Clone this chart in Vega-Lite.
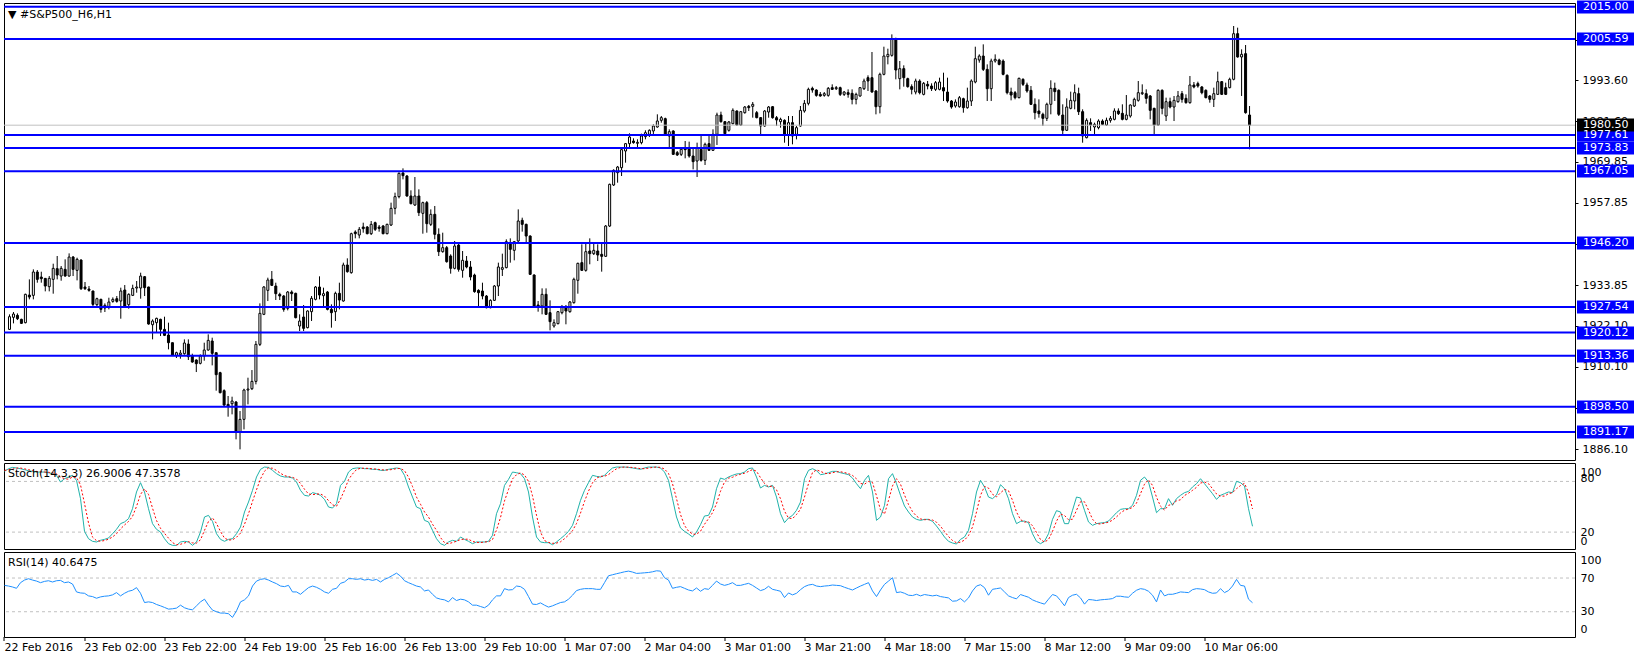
{
"$schema": "https://vega.github.io/schema/vega-lite/v6.json",
"background": "white",
"padding": {"left": 2, "top": 0, "right": 0, "bottom": 0},
"spacing": 1,
"config": {"view": {"stroke": "black", "strokeWidth": 1}, "font": "DejaVu Sans", "axis": {"grid": false, "title": null, "labelFont": "DejaVu Sans", "labelFontSize": 11, "labelColor": "black", "domain": false}},
"datasets": {
"levels": [{"p":2015.00},{"p":2005.59},{"p":1977.61},{"p":1973.83},{"p":1967.05},{"p":1946.20},{"p":1927.54},{"p":1920.12},{"p":1913.36},{"p":1898.50},{"p":1891.17}],
"bid": [{"p":1980.50}],
"bars": [
{"i":0,"o":1921.05,"h":1925.42,"l":1920.86,"c":1924.74,"k":92,"d":93,"r":61.3},
{"i":1,"o":1924.55,"h":1926.10,"l":1922.80,"c":1925.52,"k":95,"d":94,"r":60.5},
{"i":2,"o":1925.13,"h":1925.71,"l":1923.77,"c":1924.16,"k":96.6,"d":94.5,"r":59.4},
{"i":3,"o":1923.97,"h":1924.16,"l":1922.61,"c":1922.80,"k":95.9,"d":95.8,"r":57.8},
{"i":4,"o":1923.00,"h":1931.44,"l":1922.80,"c":1931.25,"k":95,"d":95.8,"r":64.5},
{"i":5,"o":1931.05,"h":1935.61,"l":1929.79,"c":1930.47,"k":93.9,"d":94.9,"r":67.6},
{"i":6,"o":1930.95,"h":1938.52,"l":1929.79,"c":1937.75,"k":92.7,"d":93.9,"r":69.2},
{"i":7,"o":1937.75,"h":1938.33,"l":1934.64,"c":1935.61,"k":91.9,"d":92.8,"r":67.6},
{"i":8,"o":1936.29,"h":1937.84,"l":1934.64,"c":1935.81,"k":91.1,"d":91.9,"r":66.4},
{"i":9,"o":1935.90,"h":1935.95,"l":1932.12,"c":1933.67,"k":91.1,"d":91.4,"r":64.5},
{"i":10,"o":1933.48,"h":1936.58,"l":1932.12,"c":1935.90,"k":91.1,"d":91.1,"r":66},
{"i":11,"o":1935.61,"h":1940.17,"l":1931.44,"c":1938.81,"k":90.3,"d":90.8,"r":66.8},
{"i":12,"o":1938.72,"h":1942.41,"l":1935.61,"c":1936.87,"k":89.2,"d":90.2,"r":65.3},
{"i":13,"o":1936.58,"h":1939.49,"l":1935.22,"c":1938.81,"k":87.2,"d":88.9,"r":66.8},
{"i":14,"o":1938.52,"h":1941.44,"l":1936.39,"c":1936.58,"k":79.3,"d":85.2,"r":67.2},
{"i":15,"o":1936.58,"h":1943.18,"l":1936.39,"c":1942.11,"k":83.2,"d":83.2,"r":64.5},
{"i":16,"o":1942.11,"h":1942.41,"l":1936.58,"c":1938.52,"k":85.2,"d":82.6,"r":65.3},
{"i":17,"o":1938.23,"h":1941.92,"l":1935.32,"c":1941.44,"k":87.2,"d":85.2,"r":62.9},
{"i":18,"o":1941.24,"h":1941.44,"l":1932.51,"c":1932.90,"k":81.3,"d":84.6,"r":53.5},
{"i":19,"o":1933.38,"h":1934.84,"l":1932.51,"c":1932.90,"k":59.6,"d":76,"r":52.3},
{"i":20,"o":1932.80,"h":1933.67,"l":1932.02,"c":1932.41,"k":20.9,"d":53.9,"r":51.9},
{"i":21,"o":1932.22,"h":1932.30,"l":1927.85,"c":1928.33,"k":12.2,"d":30.9,"r":48.8},
{"i":22,"o":1928.24,"h":1930.27,"l":1927.85,"c":1929.98,"k":9.1,"d":14.1,"r":48},
{"i":23,"o":1929.79,"h":1929.98,"l":1925.91,"c":1926.88,"k":8.3,"d":9.9,"r":46},
{"i":24,"o":1927.27,"h":1928.62,"l":1926.10,"c":1928.04,"k":10.3,"d":9.2,"r":47.6},
{"i":25,"o":1927.65,"h":1930.27,"l":1926.88,"c":1929.01,"k":11.4,"d":10,"r":48.4},
{"i":26,"o":1929.21,"h":1930.37,"l":1928.82,"c":1929.79,"k":13,"d":11.6,"r":48.8},
{"i":27,"o":1929.98,"h":1930.76,"l":1928.82,"c":1929.21,"k":18.1,"d":14.2,"r":50},
{"i":28,"o":1929.30,"h":1933.19,"l":1924.16,"c":1932.22,"k":23.3,"d":18.1,"r":52.7},
{"i":29,"o":1932.51,"h":1933.96,"l":1927.65,"c":1927.85,"k":30,"d":23.8,"r":48.8},
{"i":30,"o":1928.24,"h":1931.54,"l":1927.07,"c":1931.25,"k":32,"d":28.4,"r":51.9},
{"i":31,"o":1930.95,"h":1934.06,"l":1930.76,"c":1932.99,"k":35.9,"d":32.6,"r":54.3},
{"i":32,"o":1933.09,"h":1935.13,"l":1931.73,"c":1933.38,"k":47.7,"d":38.5,"r":55.5},
{"i":33,"o":1933.09,"h":1937.55,"l":1929.98,"c":1936.58,"k":67.5,"d":50.4,"r":58.6},
{"i":34,"o":1936.39,"h":1936.58,"l":1930.76,"c":1933.19,"k":78.5,"d":64.6,"r":51.9},
{"i":35,"o":1933.38,"h":1933.48,"l":1922.41,"c":1922.61,"k":67.5,"d":71.2,"r":40.9},
{"i":36,"o":1922.41,"h":1923.97,"l":1918.14,"c":1923.48,"k":47.7,"d":64.6,"r":41.7},
{"i":37,"o":1923.00,"h":1924.45,"l":1920.28,"c":1924.26,"k":30,"d":48.4,"r":40.9},
{"i":38,"o":1923.97,"h":1924.16,"l":1919.11,"c":1921.05,"k":23.3,"d":33.7,"r":38.6},
{"i":39,"o":1921.05,"h":1924.74,"l":1919.11,"c":1919.31,"k":20.1,"d":24.5,"r":37},
{"i":40,"o":1919.41,"h":1923.00,"l":1915.23,"c":1917.17,"k":12.2,"d":18.5,"r":35.1},
{"i":41,"o":1917.17,"h":1917.20,"l":1913.29,"c":1913.48,"k":6.3,"d":12.9,"r":33.1},
{"i":42,"o":1913.48,"h":1914.55,"l":1912.71,"c":1914.26,"k":4.3,"d":7.6,"r":33.5},
{"i":43,"o":1913.68,"h":1915.04,"l":1912.51,"c":1914.16,"k":4.3,"d":5,"r":34.3},
{"i":44,"o":1913.97,"h":1918.14,"l":1913.68,"c":1917.08,"k":8.3,"d":5.6,"r":37.8},
{"i":45,"o":1916.78,"h":1918.14,"l":1912.13,"c":1913.10,"k":9.1,"d":7.2,"r":34.7},
{"i":46,"o":1913.29,"h":1913.97,"l":1911.35,"c":1911.54,"k":8.3,"d":8.6,"r":33.1},
{"i":47,"o":1912.13,"h":1912.32,"l":1908.63,"c":1911.06,"k":4.3,"d":7.2,"r":32.3},
{"i":48,"o":1911.16,"h":1913.78,"l":1910.86,"c":1913.29,"k":8.3,"d":7,"r":37},
{"i":49,"o":1913.29,"h":1917.17,"l":1911.93,"c":1915.04,"k":20.1,"d":10.9,"r":41.7},
{"i":50,"o":1915.04,"h":1919.60,"l":1914.84,"c":1917.85,"k":37.9,"d":22.1,"r":44.9},
{"i":51,"o":1917.66,"h":1918.63,"l":1910.57,"c":1914.07,"k":39.8,"d":32.6,"r":37.8},
{"i":52,"o":1914.26,"h":1914.30,"l":1903.20,"c":1907.86,"k":32.7,"d":36.8,"r":31.9},
{"i":53,"o":1908.44,"h":1908.70,"l":1902.42,"c":1902.62,"k":18.1,"d":30.2,"r":30},
{"i":54,"o":1903.20,"h":1903.59,"l":1898.73,"c":1899.02,"k":11.4,"d":20.7,"r":28.4},
{"i":55,"o":1899.22,"h":1901.65,"l":1895.63,"c":1898.73,"k":9.1,"d":12.9,"r":28.4},
{"i":56,"o":1899.41,"h":1901.45,"l":1896.31,"c":1900.19,"k":11.4,"d":10.6,"r":27.6},
{"i":57,"o":1899.90,"h":1900.19,"l":1889.03,"c":1891.16,"k":12.2,"d":10.9,"r":23.3},
{"i":58,"o":1891.16,"h":1897.28,"l":1886.12,"c":1894.85,"k":18.1,"d":13.9,"r":31.1},
{"i":59,"o":1894.85,"h":1903.78,"l":1891.94,"c":1903.39,"k":26,"d":18.8,"r":41.7},
{"i":60,"o":1903.39,"h":1906.98,"l":1899.22,"c":1903.68,"k":43.8,"d":29.3,"r":44.1},
{"i":61,"o":1903.78,"h":1909.21,"l":1903.39,"c":1905.91,"k":55.6,"d":41.8,"r":48.8},
{"i":62,"o":1905.91,"h":1917.66,"l":1905.04,"c":1916.69,"k":69.4,"d":56.3,"r":60.5},
{"i":63,"o":1916.69,"h":1928.62,"l":1916.20,"c":1925.71,"k":85.2,"d":70.1,"r":66.4},
{"i":64,"o":1925.43,"h":1933.67,"l":1925.20,"c":1933.38,"k":94.3,"d":83,"r":68.4},
{"i":65,"o":1932.41,"h":1936.10,"l":1929.30,"c":1935.42,"k":97,"d":92.2,"r":69.2},
{"i":66,"o":1935.62,"h":1938.04,"l":1933.67,"c":1933.87,"k":96.6,"d":96,"r":67.6},
{"i":67,"o":1933.67,"h":1934.64,"l":1929.60,"c":1931.44,"k":93.1,"d":95.6,"r":65.3},
{"i":68,"o":1931.25,"h":1931.73,"l":1929.60,"c":1930.76,"k":89.2,"d":93,"r":63.3},
{"i":69,"o":1930.76,"h":1931.05,"l":1926.20,"c":1926.88,"k":86.4,"d":89.6,"r":60.5},
{"i":70,"o":1927.17,"h":1932.22,"l":1926.59,"c":1931.93,"k":85.2,"d":86.9,"r":59.8},
{"i":71,"o":1931.93,"h":1932.41,"l":1929.31,"c":1931.44,"k":85.2,"d":85.6,"r":61.3},
{"i":72,"o":1931.54,"h":1931.73,"l":1924.26,"c":1924.46,"k":84,"d":84.8,"r":53.5},
{"i":73,"o":1922.03,"h":1925.43,"l":1920.57,"c":1923.48,"k":79.3,"d":82.8,"r":53.5},
{"i":74,"o":1924.65,"h":1928.14,"l":1920.57,"c":1921.35,"k":69.4,"d":77.6,"r":50.7},
{"i":75,"o":1921.55,"h":1926.59,"l":1921.35,"c":1926.40,"k":63.5,"d":70.7,"r":54.7},
{"i":76,"o":1926.20,"h":1930.76,"l":1923.49,"c":1930.08,"k":62.7,"d":65.2,"r":58.6},
{"i":77,"o":1929.79,"h":1933.67,"l":1929.50,"c":1933.38,"k":66.7,"d":64.3,"r":60.5},
{"i":78,"o":1933.38,"h":1936.49,"l":1929.79,"c":1931.05,"k":65.5,"d":65,"r":59},
{"i":79,"o":1930.86,"h":1933.19,"l":1927.37,"c":1931.44,"k":63.5,"d":65.2,"r":56.6},
{"i":80,"o":1931.93,"h":1932.22,"l":1926.59,"c":1926.88,"k":58.8,"d":62.6,"r":53.5},
{"i":81,"o":1926.88,"h":1928.34,"l":1921.55,"c":1925.91,"k":49.7,"d":57.3,"r":51.9},
{"i":82,"o":1926.20,"h":1932.03,"l":1923.49,"c":1931.54,"k":48.5,"d":52.3,"r":56.6},
{"i":83,"o":1931.54,"h":1934.64,"l":1926.88,"c":1929.60,"k":53.6,"d":50.6,"r":57.8},
{"i":84,"o":1929.31,"h":1940.47,"l":1929.11,"c":1939.79,"k":75.3,"d":59.1,"r":63.7},
{"i":85,"o":1939.79,"h":1941.73,"l":1937.56,"c":1937.85,"k":80.1,"d":69.7,"r":65.3},
{"i":86,"o":1937.56,"h":1949.20,"l":1937.27,"c":1948.91,"k":91.1,"d":82.2,"r":69.2},
{"i":87,"o":1949.40,"h":1949.89,"l":1947.55,"c":1948.91,"k":95.1,"d":88.8,"r":69.2},
{"i":88,"o":1948.52,"h":1950.85,"l":1947.55,"c":1950.17,"k":95.9,"d":94,"r":68.4},
{"i":89,"o":1950.85,"h":1952.11,"l":1949.20,"c":1950.37,"k":95.9,"d":95.6,"r":69.2},
{"i":90,"o":1950.85,"h":1951.14,"l":1948.72,"c":1948.91,"k":95.1,"d":95.6,"r":67.6},
{"i":91,"o":1948.91,"h":1952.60,"l":1948.52,"c":1951.63,"k":95.1,"d":95.4,"r":68.4},
{"i":92,"o":1952.11,"h":1952.41,"l":1949.69,"c":1950.17,"k":94.3,"d":94.8,"r":67.2},
{"i":93,"o":1950.85,"h":1951.44,"l":1949.49,"c":1950.46,"k":94.3,"d":94.6,"r":68.4},
{"i":94,"o":1951.14,"h":1951.44,"l":1948.72,"c":1948.91,"k":93.1,"d":93.9,"r":65.3},
{"i":95,"o":1948.91,"h":1951.82,"l":1948.72,"c":1951.63,"k":93.1,"d":93.5,"r":68.4},
{"i":96,"o":1951.43,"h":1957.94,"l":1951.14,"c":1956.29,"k":94.3,"d":93.5,"r":70.4},
{"i":97,"o":1956.29,"h":1960.85,"l":1954.54,"c":1959.69,"k":95.1,"d":94.2,"r":73.1},
{"i":98,"o":1959.69,"h":1966.77,"l":1959.20,"c":1966.48,"k":95.9,"d":95.1,"r":75.8},
{"i":99,"o":1966.58,"h":1967.93,"l":1964.73,"c":1965.80,"k":95.1,"d":95.4,"r":72.3},
{"i":100,"o":1965.70,"h":1965.99,"l":1959.68,"c":1959.88,"k":87.2,"d":92.7,"r":66.8},
{"i":101,"o":1959.88,"h":1961.53,"l":1957.45,"c":1957.65,"k":73.4,"d":85.2,"r":64.5},
{"i":102,"o":1957.26,"h":1965.41,"l":1956.97,"c":1959.88,"k":61.5,"d":74,"r":62.5},
{"i":103,"o":1959.88,"h":1961.82,"l":1954.06,"c":1955.03,"k":49.7,"d":61.5,"r":60.5},
{"i":104,"o":1954.83,"h":1958.23,"l":1948.91,"c":1957.94,"k":47.7,"d":53,"r":59.4},
{"i":105,"o":1957.94,"h":1958.42,"l":1949.20,"c":1951.82,"k":33.9,"d":43.8,"r":54.7},
{"i":106,"o":1951.63,"h":1955.99,"l":1951.14,"c":1954.54,"k":32,"d":37.9,"r":55.8},
{"i":107,"o":1954.54,"h":1956.97,"l":1947.26,"c":1948.72,"k":22.1,"d":29.3,"r":50.7},
{"i":108,"o":1948.72,"h":1950.46,"l":1942.41,"c":1943.67,"k":12.2,"d":22.1,"r":46.4},
{"i":109,"o":1943.67,"h":1949.20,"l":1943.38,"c":1944.84,"k":6.3,"d":13.5,"r":44.9},
{"i":110,"o":1944.84,"h":1945.32,"l":1940.47,"c":1940.76,"k":4.3,"d":7.6,"r":44.1},
{"i":111,"o":1942.41,"h":1942.90,"l":1937.27,"c":1938.82,"k":8.3,"d":6.3,"r":41.7},
{"i":112,"o":1938.82,"h":1946.78,"l":1938.53,"c":1945.32,"k":10.3,"d":7.6,"r":46.8},
{"i":113,"o":1945.61,"h":1946.00,"l":1937.85,"c":1938.53,"k":9.1,"d":9.2,"r":43.3},
{"i":114,"o":1938.24,"h":1943.87,"l":1936.10,"c":1941.15,"k":14.2,"d":11.2,"r":44.9},
{"i":115,"o":1940.95,"h":1942.41,"l":1938.82,"c":1939.21,"k":11.4,"d":11.6,"r":44.1},
{"i":116,"o":1939.21,"h":1940.95,"l":1935.33,"c":1936.30,"k":9.1,"d":11.6,"r":41.7},
{"i":117,"o":1936.88,"h":1937.27,"l":1931.73,"c":1932.03,"k":6.3,"d":8.9,"r":37.8},
{"i":118,"o":1932.41,"h":1932.71,"l":1927.37,"c":1931.73,"k":8.3,"d":7.9,"r":37.8},
{"i":119,"o":1932.22,"h":1934.64,"l":1929.79,"c":1930.76,"k":8.3,"d":7.6,"r":36.2},
{"i":120,"o":1930.76,"h":1931.05,"l":1927.17,"c":1927.37,"k":8.3,"d":8.3,"r":34.7},
{"i":121,"o":1927.37,"h":1929.79,"l":1927.17,"c":1929.50,"k":9.1,"d":8.6,"r":37.8},
{"i":122,"o":1929.50,"h":1933.96,"l":1929.31,"c":1933.67,"k":16.2,"d":11.2,"r":44.1},
{"i":123,"o":1933.67,"h":1940.47,"l":1930.76,"c":1939.21,"k":41.8,"d":22.4,"r":48.8},
{"i":124,"o":1938.53,"h":1943.09,"l":1936.59,"c":1939.02,"k":53.6,"d":37.2,"r":48.8},
{"i":125,"o":1939.02,"h":1947.26,"l":1938.82,"c":1946.58,"k":75.3,"d":56.9,"r":57.4},
{"i":126,"o":1946.29,"h":1947.55,"l":1940.47,"c":1944.35,"k":82.4,"d":70.4,"r":55.8},
{"i":127,"o":1944.06,"h":1946.78,"l":1941.15,"c":1946.58,"k":91.1,"d":82.9,"r":56.2},
{"i":128,"o":1946.78,"h":1955.99,"l":1946.29,"c":1952.60,"k":90.3,"d":87.9,"r":60.5},
{"i":129,"o":1952.80,"h":1953.57,"l":1949.50,"c":1951.63,"k":89.2,"d":90.2,"r":59.8},
{"i":130,"o":1951.63,"h":1951.82,"l":1946.29,"c":1948.23,"k":83.2,"d":87.6,"r":56.6},
{"i":131,"o":1948.23,"h":1948.43,"l":1936.88,"c":1937.08,"k":67.5,"d":80,"r":48},
{"i":132,"o":1936.88,"h":1937.08,"l":1927.56,"c":1927.85,"k":37.9,"d":62.9,"r":39},
{"i":133,"o":1928.15,"h":1929.31,"l":1926.20,"c":1927.56,"k":14.2,"d":39.9,"r":38.6},
{"i":134,"o":1927.85,"h":1932.99,"l":1925.43,"c":1931.25,"k":8.3,"d":20.1,"r":40.5},
{"i":135,"o":1931.25,"h":1932.99,"l":1925.23,"c":1925.43,"k":7.5,"d":10,"r":37.8},
{"i":136,"o":1925.91,"h":1929.50,"l":1920.77,"c":1923.29,"k":7.5,"d":7.8,"r":35.5},
{"i":137,"o":1922.03,"h":1923.97,"l":1921.55,"c":1922.99,"k":5.1,"d":6.7,"r":37},
{"i":138,"o":1922.71,"h":1926.40,"l":1922.52,"c":1926.20,"k":8.3,"d":7,"r":39},
{"i":139,"o":1925.91,"h":1928.15,"l":1925.43,"c":1927.56,"k":12.2,"d":8.5,"r":40.9},
{"i":140,"o":1927.56,"h":1928.15,"l":1922.52,"c":1926.40,"k":16.2,"d":12.2,"r":41.7},
{"i":141,"o":1926.20,"h":1929.31,"l":1925.91,"c":1929.02,"k":20.9,"d":16.4,"r":44.9},
{"i":142,"o":1928.83,"h":1936.10,"l":1928.53,"c":1935.62,"k":28,"d":21.7,"r":49.6},
{"i":143,"o":1935.33,"h":1940.47,"l":1931.44,"c":1940.27,"k":41.8,"d":30.2,"r":55.1},
{"i":144,"o":1940.47,"h":1945.81,"l":1938.05,"c":1938.24,"k":57.6,"d":42.5,"r":56.6},
{"i":145,"o":1938.24,"h":1946.29,"l":1937.85,"c":1943.67,"k":69.4,"d":56.3,"r":57.4},
{"i":146,"o":1943.87,"h":1947.55,"l":1940.00,"c":1943.09,"k":78.5,"d":68.5,"r":57.4},
{"i":147,"o":1943.09,"h":1946.29,"l":1942.70,"c":1944.06,"k":87.2,"d":78.4,"r":57.4},
{"i":148,"o":1943.87,"h":1945.81,"l":1940.95,"c":1942.70,"k":86,"d":83.9,"r":56.6},
{"i":149,"o":1942.90,"h":1946.29,"l":1937.85,"c":1942.32,"k":85.2,"d":86.1,"r":56.6},
{"i":150,"o":1942.32,"h":1951.43,"l":1942.12,"c":1951.14,"k":87.2,"d":86.1,"r":64.5},
{"i":151,"o":1951.14,"h":1963.47,"l":1950.85,"c":1963.28,"k":91.9,"d":88.1,"r":72.7},
{"i":152,"o":1963.08,"h":1967.65,"l":1962.79,"c":1967.35,"k":95.9,"d":91.7,"r":73.9},
{"i":153,"o":1966.67,"h":1968.62,"l":1963.76,"c":1968.32,"k":97,"d":94.9,"r":75.1},
{"i":154,"o":1968.13,"h":1973.66,"l":1965.70,"c":1973.37,"k":97,"d":96.6,"r":76.2},
{"i":155,"o":1972.98,"h":1975.31,"l":1969.58,"c":1975.12,"k":97,"d":97,"r":77.4},
{"i":156,"o":1975.12,"h":1978.13,"l":1973.95,"c":1977.06,"k":96.6,"d":96.9,"r":78.2},
{"i":157,"o":1975.89,"h":1976.67,"l":1975.12,"c":1975.41,"k":95.9,"d":96.5,"r":77.1},
{"i":158,"o":1975.22,"h":1976.38,"l":1973.95,"c":1975.51,"k":95.1,"d":95.9,"r":75.5},
{"i":159,"o":1975.41,"h":1978.03,"l":1974.92,"c":1977.35,"k":94.3,"d":95.1,"r":75.8},
{"i":160,"o":1977.16,"h":1979.00,"l":1976.38,"c":1978.32,"k":95.9,"d":95.1,"r":76.2},
{"i":161,"o":1977.84,"h":1979.29,"l":1977.06,"c":1979.00,"k":97,"d":95.7,"r":76.6},
{"i":162,"o":1978.81,"h":1980.75,"l":1977.84,"c":1980.26,"k":97,"d":96.6,"r":77.4},
{"i":163,"o":1979.97,"h":1983.66,"l":1979.78,"c":1981.72,"k":97,"d":97,"r":78.6},
{"i":164,"o":1981.91,"h":1983.17,"l":1981.23,"c":1982.69,"k":95.9,"d":96.6,"r":78.2},
{"i":165,"o":1982.40,"h":1982.69,"l":1977.35,"c":1977.64,"k":91.1,"d":94.7,"r":70.4},
{"i":166,"o":1977.35,"h":1979.29,"l":1973.95,"c":1978.61,"k":81.3,"d":89.4,"r":67.6},
{"i":167,"o":1978.81,"h":1979.00,"l":1971.82,"c":1972.01,"k":59.6,"d":77.3,"r":57.8},
{"i":168,"o":1972.50,"h":1972.98,"l":1971.53,"c":1971.82,"k":37.9,"d":59.6,"r":59},
{"i":169,"o":1972.01,"h":1973.95,"l":1971.53,"c":1973.47,"k":24.9,"d":40.8,"r":59.8},
{"i":170,"o":1973.95,"h":1975.89,"l":1970.85,"c":1973.37,"k":20.9,"d":27.9,"r":57.8},
{"i":171,"o":1973.95,"h":1975.70,"l":1971.04,"c":1971.53,"k":17.8,"d":21.2,"r":55.8},
{"i":172,"o":1971.53,"h":1973.95,"l":1967.64,"c":1969.88,"k":14.2,"d":17.6,"r":54.7},
{"i":173,"o":1970.07,"h":1975.41,"l":1965.41,"c":1973.95,"k":20.1,"d":17.4,"r":58.2},
{"i":174,"o":1973.47,"h":1977.84,"l":1969.88,"c":1970.27,"k":28.8,"d":21,"r":54.3},
{"i":175,"o":1970.27,"h":1975.41,"l":1968.91,"c":1974.92,"k":39.1,"d":29.3,"r":57.4},
{"i":176,"o":1975.12,"h":1977.84,"l":1972.98,"c":1973.18,"k":39.8,"d":35.9,"r":56.6},
{"i":177,"o":1973.18,"h":1979.29,"l":1972.98,"c":1977.84,"k":49.7,"d":42.9,"r":61.3},
{"i":178,"o":1977.84,"h":1984.14,"l":1974.73,"c":1983.46,"k":71.4,"d":53.6,"r":66.4},
{"i":179,"o":1983.46,"h":1984.43,"l":1981.23,"c":1981.52,"k":84,"d":68.4,"r":62.9},
{"i":180,"o":1981.52,"h":1981.72,"l":1977.84,"c":1978.03,"k":82.4,"d":79.3,"r":61.3},
{"i":181,"o":1979.00,"h":1981.72,"l":1978.61,"c":1981.43,"k":85.2,"d":83.9,"r":62.5},
{"i":182,"o":1980.94,"h":1985.40,"l":1980.75,"c":1984.82,"k":87.2,"d":84.9,"r":64.5},
{"i":183,"o":1984.63,"h":1984.82,"l":1980.26,"c":1980.55,"k":88.8,"d":87.1,"r":61.3},
{"i":184,"o":1980.55,"h":1984.63,"l":1980.26,"c":1984.43,"k":89.2,"d":88.4,"r":61.3},
{"i":185,"o":1984.14,"h":1986.08,"l":1983.85,"c":1985.79,"k":91.1,"d":89.7,"r":62.5},
{"i":186,"o":1985.99,"h":1986.38,"l":1984.63,"c":1985.60,"k":95.1,"d":91.8,"r":63.7},
{"i":187,"o":1985.99,"h":1987.25,"l":1982.69,"c":1986.57,"k":95.9,"d":94,"r":61.3},
{"i":188,"o":1984.14,"h":1984.63,"l":1982.49,"c":1982.69,"k":85.2,"d":92.1,"r":58.2},
{"i":189,"o":1982.69,"h":1982.88,"l":1977.84,"c":1980.26,"k":72.2,"d":84.4,"r":55.1},
{"i":190,"o":1980.26,"h":1984.91,"l":1980.06,"c":1984.62,"k":75.3,"d":77.6,"r":56.6},
{"i":191,"o":1984.33,"h":1986.08,"l":1982.68,"c":1985.79,"k":73.4,"d":73.6,"r":60.2},
{"i":192,"o":1985.88,"h":1986.08,"l":1982.39,"c":1982.68,"k":75.3,"d":74.7,"r":56.6},
{"i":193,"o":1982.68,"h":1983.17,"l":1980.26,"c":1982.00,"k":61.5,"d":70.1,"r":55.5},
{"i":194,"o":1981.52,"h":1982.68,"l":1979.77,"c":1982.20,"k":41.8,"d":59.5,"r":54.3},
{"i":195,"o":1981.91,"h":1982.20,"l":1975.40,"c":1977.54,"k":31.2,"d":44.8,"r":46.8},
{"i":196,"o":1977.54,"h":1983.17,"l":1974.43,"c":1981.23,"k":36.7,"d":36.6,"r":52.3},
{"i":197,"o":1981.23,"h":1983.17,"l":1974.92,"c":1977.34,"k":39.8,"d":35.9,"r":50},
{"i":198,"o":1977.83,"h":1980.26,"l":1976.37,"c":1979.77,"k":45.8,"d":40.8,"r":51.9},
{"i":199,"o":1980.26,"h":1986.08,"l":1980.06,"c":1984.81,"k":55.6,"d":47.1,"r":56.2},
{"i":200,"o":1984.62,"h":1987.82,"l":1984.14,"c":1986.85,"k":83.2,"d":61.5,"r":59.8},
{"i":201,"o":1986.85,"h":1991.42,"l":1986.27,"c":1990.93,"k":93.1,"d":77.3,"r":61.7},
{"i":202,"o":1991.22,"h":1991.71,"l":1989.96,"c":1990.74,"k":95.1,"d":90.5,"r":62.5},
{"i":203,"o":1990.74,"h":1990.93,"l":1988.79,"c":1989.18,"k":92.7,"d":93.6,"r":60.5},
{"i":204,"o":1989.47,"h":1990.15,"l":1988.79,"c":1988.99,"k":88,"d":91.9,"r":59.8},
{"i":205,"o":1989.18,"h":1990.15,"l":1988.79,"c":1989.67,"k":88.8,"d":89.8,"r":60.5},
{"i":206,"o":1989.18,"h":1991.61,"l":1988.79,"c":1991.22,"k":90.3,"d":89,"r":60.9},
{"i":207,"o":1991.42,"h":1992.39,"l":1990.74,"c":1990.93,"k":91.9,"d":90.3,"r":61.7},
{"i":208,"o":1991.12,"h":1991.90,"l":1990.74,"c":1991.42,"k":91.9,"d":91.4,"r":61.3},
{"i":209,"o":1991.42,"h":1991.71,"l":1988.99,"c":1989.47,"k":90.3,"d":91.4,"r":60.9},
{"i":210,"o":1989.47,"h":1990.45,"l":1988.99,"c":1990.15,"k":89.2,"d":90.5,"r":59},
{"i":211,"o":1989.96,"h":1990.93,"l":1988.50,"c":1989.47,"k":88,"d":89.2,"r":57.4},
{"i":212,"o":1989.76,"h":1990.93,"l":1986.56,"c":1988.02,"k":84,"d":87.1,"r":55.8},
{"i":213,"o":1988.02,"h":1989.96,"l":1986.56,"c":1989.47,"k":77.3,"d":83.1,"r":58.2},
{"i":214,"o":1988.99,"h":1991.61,"l":1988.79,"c":1991.42,"k":71.4,"d":77.6,"r":60.5},
{"i":215,"o":1991.12,"h":1994.04,"l":1990.74,"c":1993.36,"k":81.3,"d":76.7,"r":62.5},
{"i":216,"o":1994.33,"h":1995.01,"l":1990.45,"c":1993.36,"k":87.2,"d":80,"r":64.5},
{"i":217,"o":1994.33,"h":2001.80,"l":1989.96,"c":1990.15,"k":67.5,"d":78.7,"r":54.7},
{"i":218,"o":1990.45,"h":1990.74,"l":1983.65,"c":1985.88,"k":33.9,"d":62.9,"r":48},
{"i":219,"o":1985.88,"h":1995.78,"l":1983.94,"c":1995.30,"k":37.9,"d":46.4,"r":55.8},
{"i":220,"o":1995.30,"h":2003.35,"l":1995.01,"c":2000.63,"k":51.7,"d":41.2,"r":62.5},
{"i":221,"o":2000.44,"h":2002.77,"l":1998.21,"c":2001.12,"k":83.2,"d":57.6,"r":66.4},
{"i":222,"o":2000.83,"h":2006.94,"l":2000.44,"c":2005.68,"k":89.2,"d":74.7,"r":70.4},
{"i":223,"o":2005.68,"h":2005.97,"l":1993.84,"c":1996.56,"k":77.3,"d":83.2,"r":52.7},
{"i":224,"o":1994.04,"h":1999.18,"l":1990.93,"c":1996.95,"k":63.5,"d":76.7,"r":53.5},
{"i":225,"o":1996.95,"h":1997.92,"l":1991.71,"c":1994.33,"k":50.9,"d":63.9,"r":51.9},
{"i":226,"o":1994.04,"h":1994.33,"l":1991.42,"c":1991.71,"k":43.8,"d":52.7,"r":49.6},
{"i":227,"o":1991.71,"h":1992.39,"l":1989.47,"c":1990.93,"k":37.9,"d":44.2,"r":49.2},
{"i":228,"o":1990.15,"h":1994.04,"l":1989.47,"c":1993.36,"k":35.1,"d":38.9,"r":50.7},
{"i":229,"o":1993.36,"h":1993.84,"l":1989.47,"c":1989.96,"k":33.9,"d":35.6,"r":48.8},
{"i":230,"o":1989.47,"h":1993.07,"l":1989.18,"c":1992.68,"k":35.1,"d":34.7,"r":50.4},
{"i":231,"o":1992.39,"h":1993.36,"l":1990.93,"c":1991.90,"k":35.1,"d":34.7,"r":49.6},
{"i":232,"o":1991.90,"h":1992.68,"l":1990.45,"c":1991.12,"k":32.7,"d":34.3,"r":48.8},
{"i":233,"o":1990.93,"h":1993.36,"l":1990.45,"c":1992.87,"k":27.2,"d":31.7,"r":49.6},
{"i":234,"o":1990.93,"h":1994.33,"l":1990.64,"c":1993.07,"k":20.9,"d":26.9,"r":48},
{"i":235,"o":1991.42,"h":1995.78,"l":1987.53,"c":1990.45,"k":14.2,"d":20.8,"r":47.2},
{"i":236,"o":1990.15,"h":1994.33,"l":1987.05,"c":1987.53,"k":9.1,"d":14.7,"r":46.4},
{"i":237,"o":1987.53,"h":1987.82,"l":1985.30,"c":1985.79,"k":7.1,"d":10.1,"r":42.5},
{"i":238,"o":1986.08,"h":1988.02,"l":1985.59,"c":1987.24,"k":5.9,"d":7.4,"r":42.9},
{"i":239,"o":1985.88,"h":1988.99,"l":1985.59,"c":1988.50,"k":11.4,"d":8.1,"r":45.6},
{"i":240,"o":1988.21,"h":1988.50,"l":1984.14,"c":1985.59,"k":14.2,"d":10.5,"r":41.7},
{"i":241,"o":1985.59,"h":1991.42,"l":1985.30,"c":1987.53,"k":22.1,"d":15.9,"r":46.4},
{"i":242,"o":1987.53,"h":1993.84,"l":1986.08,"c":1993.36,"k":41.8,"d":26,"r":54.7},
{"i":243,"o":1993.07,"h":2003.35,"l":1992.68,"c":1999.86,"k":67.5,"d":43.8,"r":60.5},
{"i":244,"o":1999.47,"h":2001.12,"l":1998.70,"c":2000.63,"k":81.3,"d":63.5,"r":62.1},
{"i":245,"o":2000.63,"h":2004.03,"l":1996.27,"c":1996.75,"k":73.4,"d":74.1,"r":58.6},
{"i":246,"o":1996.75,"h":1998.21,"l":1987.53,"c":1991.12,"k":61.5,"d":72.1,"r":49.6},
{"i":247,"o":1991.12,"h":1999.86,"l":1987.53,"c":1999.18,"k":59.6,"d":64.8,"r":56.6},
{"i":248,"o":1999.18,"h":2001.12,"l":1998.70,"c":1999.67,"k":63.9,"d":61.7,"r":57.4},
{"i":249,"o":1999.47,"h":1999.86,"l":1997.92,"c":1998.21,"k":76.1,"d":66.5,"r":58.2},
{"i":250,"o":1999.18,"h":1999.67,"l":1995.01,"c":1995.30,"k":71.4,"d":70.5,"r":53.5},
{"i":251,"o":1995.01,"h":1995.30,"l":1989.47,"c":1989.96,"k":59.6,"d":69,"r":48.8},
{"i":252,"o":1990.16,"h":1991.42,"l":1987.73,"c":1989.28,"k":41.8,"d":57.6,"r":46.8},
{"i":253,"o":1989.96,"h":1990.45,"l":1988.02,"c":1988.51,"k":30,"d":43.8,"r":45.3},
{"i":254,"o":1988.51,"h":1994.33,"l":1988.31,"c":1994.14,"k":32.7,"d":34.8,"r":50.4},
{"i":255,"o":1993.85,"h":1994.14,"l":1991.90,"c":1992.39,"k":33.1,"d":31.9,"r":48.8},
{"i":256,"o":1992.20,"h":1992.88,"l":1989.96,"c":1990.45,"k":31.2,"d":32.3,"r":47.2},
{"i":257,"o":1990.64,"h":1991.90,"l":1986.37,"c":1986.57,"k":18.1,"d":27.5,"r":44.1},
{"i":258,"o":1986.57,"h":1988.31,"l":1982.20,"c":1984.14,"k":9.1,"d":19.5,"r":42.1},
{"i":259,"o":1984.63,"h":1988.02,"l":1982.69,"c":1983.85,"k":6.3,"d":11.2,"r":40.5},
{"i":260,"o":1983.66,"h":1984.14,"l":1980.26,"c":1982.49,"k":9.1,"d":8.2,"r":39},
{"i":261,"o":1982.49,"h":1987.05,"l":1981.71,"c":1986.57,"k":18.1,"d":11.2,"r":44.9},
{"i":262,"o":1986.57,"h":1993.56,"l":1983.66,"c":1991.23,"k":35.1,"d":20.8,"r":50.4},
{"i":263,"o":1991.23,"h":1992.88,"l":1987.54,"c":1990.26,"k":45.4,"d":32.9,"r":48.8},
{"i":264,"o":1990.64,"h":1990.94,"l":1983.17,"c":1983.66,"k":43.8,"d":41.4,"r":43.3},
{"i":265,"o":1983.46,"h":1986.57,"l":1977.35,"c":1979.00,"k":30,"d":39.7,"r":37},
{"i":266,"o":1979.00,"h":1988.31,"l":1978.81,"c":1985.79,"k":30,"d":34.6,"r":46.8},
{"i":267,"o":1985.40,"h":1990.26,"l":1985.11,"c":1987.73,"k":45.8,"d":35.3,"r":49.6},
{"i":268,"o":1987.54,"h":1992.39,"l":1985.11,"c":1989.96,"k":61.5,"d":45.8,"r":50.7},
{"i":269,"o":1989.67,"h":1991.42,"l":1983.46,"c":1984.43,"k":60.4,"d":55.9,"r":46.4},
{"i":270,"o":1984.43,"h":1985.11,"l":1975.40,"c":1977.35,"k":45.8,"d":55.9,"r":39},
{"i":271,"o":1976.86,"h":1982.49,"l":1976.67,"c":1981.91,"k":32,"d":46.1,"r":44.5},
{"i":272,"o":1981.23,"h":1982.49,"l":1978.81,"c":1980.55,"k":28,"d":35.3,"r":44.1},
{"i":273,"o":1979.97,"h":1981.23,"l":1977.83,"c":1980.74,"k":30,"d":30,"r":43.3},
{"i":274,"o":1979.77,"h":1982.20,"l":1979.29,"c":1981.71,"k":30.8,"d":29.6,"r":44.1},
{"i":275,"o":1981.71,"h":1982.20,"l":1980.55,"c":1980.74,"k":31.2,"d":30.7,"r":44.5},
{"i":276,"o":1980.55,"h":1982.69,"l":1980.26,"c":1981.91,"k":33.1,"d":31.7,"r":44.9},
{"i":277,"o":1981.91,"h":1983.17,"l":1981.23,"c":1982.49,"k":37.9,"d":34.1,"r":45.6},
{"i":278,"o":1982.20,"h":1985.40,"l":1981.91,"c":1984.63,"k":43,"d":38,"r":48.4},
{"i":279,"o":1984.63,"h":1985.40,"l":1983.46,"c":1983.85,"k":46.9,"d":42.6,"r":48.4},
{"i":280,"o":1983.95,"h":1986.57,"l":1981.91,"c":1982.20,"k":47.7,"d":45.9,"r":47.6},
{"i":281,"o":1982.20,"h":1989.28,"l":1981.91,"c":1983.46,"k":47.7,"d":47.4,"r":47.2},
{"i":282,"o":1983.17,"h":1986.57,"l":1982.69,"c":1986.37,"k":51.7,"d":49,"r":51.9},
{"i":283,"o":1986.08,"h":1988.51,"l":1985.79,"c":1988.02,"k":63.5,"d":54.3,"r":55.5},
{"i":284,"o":1987.73,"h":1993.36,"l":1987.34,"c":1989.96,"k":81.3,"d":65.5,"r":57.4},
{"i":285,"o":1989.67,"h":1992.39,"l":1989.28,"c":1989.96,"k":85.2,"d":76.7,"r":56.6},
{"i":286,"o":1989.67,"h":1990.94,"l":1986.76,"c":1988.31,"k":79.3,"d":81.9,"r":54.3},
{"i":287,"o":1989.00,"h":1989.28,"l":1982.20,"c":1984.82,"k":61.5,"d":75.3,"r":49.6},
{"i":288,"o":1985.40,"h":1985.59,"l":1977.83,"c":1980.55,"k":43,"d":61.3,"r":41.7},
{"i":289,"o":1980.55,"h":1990.94,"l":1980.26,"c":1990.64,"k":47.7,"d":50.7,"r":55.8},
{"i":290,"o":1990.64,"h":1990.94,"l":1983.66,"c":1985.40,"k":47.7,"d":46.1,"r":48.8},
{"i":291,"o":1983.17,"h":1988.51,"l":1981.71,"c":1987.34,"k":59.6,"d":51.7,"r":50.7},
{"i":292,"o":1987.34,"h":1988.51,"l":1985.40,"c":1985.79,"k":51.7,"d":53,"r":50.7},
{"i":293,"o":1985.79,"h":1988.99,"l":1981.71,"c":1987.73,"k":59.6,"d":57,"r":51.9},
{"i":294,"o":1987.34,"h":1990.45,"l":1987.05,"c":1989.00,"k":63.5,"d":58.3,"r":53.5},
{"i":295,"o":1989.67,"h":1990.45,"l":1987.05,"c":1988.02,"k":66.7,"d":63.3,"r":53.1},
{"i":296,"o":1988.31,"h":1989.48,"l":1986.76,"c":1987.05,"k":68.2,"d":66.1,"r":52.7},
{"i":297,"o":1987.05,"h":1994.82,"l":1986.76,"c":1992.20,"k":73.4,"d":69.4,"r":56.2},
{"i":298,"o":1992.20,"h":1993.07,"l":1991.23,"c":1991.62,"k":77.3,"d":73,"r":57.4},
{"i":299,"o":1992.59,"h":1993.17,"l":1991.42,"c":1991.91,"k":83.2,"d":78,"r":57},
{"i":300,"o":1991.62,"h":1991.91,"l":1989.48,"c":1989.96,"k":77.3,"d":79.3,"r":56.2},
{"i":301,"o":1990.64,"h":1990.94,"l":1988.31,"c":1988.51,"k":71.4,"d":77.3,"r":53.5},
{"i":302,"o":1989.00,"h":1989.28,"l":1987.05,"c":1988.02,"k":65.5,"d":71.4,"r":51.9},
{"i":303,"o":1988.02,"h":1991.42,"l":1985.79,"c":1989.67,"k":58.8,"d":65.2,"r":52.3},
{"i":304,"o":1989.48,"h":1996.08,"l":1989.28,"c":1993.17,"k":63.5,"d":62.6,"r":57.4},
{"i":305,"o":1993.17,"h":1993.36,"l":1989.28,"c":1989.48,"k":65.5,"d":62.6,"r":52.7},
{"i":306,"o":1991.42,"h":1992.88,"l":1989.28,"c":1989.48,"k":67.5,"d":65.5,"r":55.1},
{"i":307,"o":1991.42,"h":1994.33,"l":1991.23,"c":1993.85,"k":66.7,"d":66.6,"r":60.5},
{"i":308,"o":1993.85,"h":2009.37,"l":1993.56,"c":2007.14,"k":80.1,"d":71.4,"r":68.4},
{"i":309,"o":2007.14,"h":2008.89,"l":2000.16,"c":2000.35,"k":78.5,"d":75.1,"r":61.3},
{"i":310,"o":2000.35,"h":2002.58,"l":1989.00,"c":2001.13,"k":74.6,"d":77.7,"r":60.5},
{"i":311,"o":2001.32,"h":2003.84,"l":1983.85,"c":1984.14,"k":47.7,"d":66.9,"r":44.9},
{"i":312,"o":1983.46,"h":1986.08,"l":1973.47,"c":1980.50,"k":26.9,"d":47.36,"r":40.65}
]
},
"vconcat": [
{
"width": 1571, "height": 457,
"title": {"text": "▼ #S&P500_H6,H1", "anchor": "start", "frame": "group", "orient": "top", "baseline": "top", "offset": -19.5, "dx": 4, "font": "DejaVu Sans", "fontSize": 11, "fontWeight": "normal", "color": "black"},
"resolve": {"scale": {"y": "independent"}, "axis": {"y": "independent"}},
"layer": [
{"data": {"name": "bars"},
 "layer": [
  {"mark": {"type": "rule", "color": "black", "strokeWidth": 1},
   "encoding": {
    "x": {"field": "i", "type": "quantitative", "scale": {"domain": [-0.125, 392.625], "nice": false, "zero": false}, "axis": null},
    "y": {"field": "l", "type": "quantitative", "scale": {"domain": [1883.02, 2016.07], "nice": false, "zero": false},
      "axis": {"orient": "right", "values": [2005.35, 1993.60, 1981.60, 1969.85, 1957.85, 1945.85, 1933.85, 1922.10, 1910.10, 1898.10, 1886.10], "format": ".2f", "ticks": true, "tickSize": 3, "tickColor": "black", "tickWidth": 1, "labelPadding": 4, "labelAlign": "left", "labelBaseline": "middle", "labelOverlap": false, "labelBound": false, "labelFlush": false, "domain": false, "grid": false, "title": null}},
    "y2": {"field": "h"}}},
  {"mark": {"type": "bar", "width": 2, "stroke": "black", "strokeWidth": 1},
   "encoding": {
    "x": {"field": "i", "type": "quantitative", "scale": {"domain": [-0.125, 392.625], "nice": false, "zero": false}, "axis": null},
    "y": {"field": "o", "type": "quantitative"},
    "y2": {"field": "c"},
    "fill": {"condition": {"test": "datum.c >= datum.o", "value": "white"}, "value": "black"}}}
 ]},
{"data": {"name": "bid"}, "mark": {"type": "rule", "color": "#C0C0C0", "strokeWidth": 1},
 "encoding": {"y": {"field": "p", "type": "quantitative", "scale": {"domain": [1883.02, 2016.07], "nice": false, "zero": false}, "axis": null}}},
{"data": {"name": "levels"}, "mark": {"type": "rule", "color": "#0000FF", "strokeWidth": 2},
 "encoding": {"y": {"field": "p", "type": "quantitative", "scale": {"domain": [1883.02, 2016.07], "nice": false, "zero": false},
   "axis": {"orient": "right", "values": [2015.00, 2005.59, 1980.50, 1977.61, 1973.83, 1967.05, 1946.20, 1927.54, 1920.12, 1913.36, 1898.50, 1891.17], "format": ".2f", "offset": 2, "translate": 0, "ticks": true, "tickSize": 58, "tickWidth": 13, "tickColor": {"condition": {"test": "datum.value == 1980.5", "value": "black"}, "value": "#0000FF"}, "labelColor": "white", "labelPadding": -52, "labelAlign": "left", "labelBaseline": "middle", "labelOverlap": false, "labelBound": false, "labelFlush": false, "domain": false, "grid": false, "title": null}}}}
]
},
{
"width": 1571, "height": 86,
"title": {"text": "Stoch(14,3,3) 26.9006 47.3578", "anchor": "start", "frame": "group", "orient": "top", "baseline": "top", "offset": -16, "dx": 4, "font": "DejaVu Sans", "fontSize": 11, "fontWeight": "normal", "color": "black"},
"resolve": {"scale": {"y": "independent"}, "axis": {"y": "independent"}},
"layer": [
{"data": {"values": [{"v": 80}]}, "mark": {"type": "rule", "color": "#C0C0C0", "strokeDash": [3, 3], "strokeWidth": 1},
 "encoding": {"y": {"field": "v", "type": "quantitative", "scale": {"domain": [0, 101.8], "nice": false, "zero": false},
   "axis": {"orient": "right", "values": [80], "ticks": false, "labelPadding": 5, "labelAlign": "left", "labelBaseline": "middle", "labelOffset": -3, "labelOverlap": false, "labelBound": false, "labelFlush": false, "domain": false, "grid": false, "title": null}}}},
{"data": {"values": [{"v": 20}]}, "mark": {"type": "rule", "color": "#C0C0C0", "strokeDash": [3, 3], "strokeWidth": 1},
 "encoding": {"y": {"field": "v", "type": "quantitative", "scale": {"domain": [0, 101.8], "nice": false, "zero": false},
   "axis": {"orient": "right", "values": [20], "ticks": false, "labelPadding": 5, "labelAlign": "left", "labelBaseline": "middle", "labelOffset": 0, "labelOverlap": false, "labelBound": false, "labelFlush": false, "domain": false, "grid": false, "title": null}}}},
{"data": {"name": "bars"}, "mark": {"type": "line", "color": "#20B2AA", "strokeWidth": 1},
 "encoding": {"x": {"field": "i", "type": "quantitative", "scale": {"domain": [-0.125, 392.625], "nice": false, "zero": false}, "axis": null},
   "y": {"field": "k", "type": "quantitative", "scale": {"domain": [0, 101.8], "nice": false, "zero": false},
   "axis": {"orient": "right", "values": [100], "ticks": false, "labelPadding": 5, "labelAlign": "left", "labelBaseline": "middle", "labelOffset": 8, "labelOverlap": false, "labelBound": false, "labelFlush": false, "domain": false, "grid": false, "title": null}}}},
{"data": {"name": "bars"}, "mark": {"type": "line", "color": "#FF0000", "strokeWidth": 1, "strokeDash": [2, 2]},
 "encoding": {"x": {"field": "i", "type": "quantitative", "scale": {"domain": [-0.125, 392.625], "nice": false, "zero": false}, "axis": null},
   "y": {"field": "d", "type": "quantitative", "scale": {"domain": [0, 101.8], "nice": false, "zero": false},
   "axis": {"orient": "right", "values": [0], "ticks": false, "labelPadding": 5, "labelAlign": "left", "labelBaseline": "middle", "labelOffset": -8, "labelOverlap": false, "labelBound": false, "labelFlush": false, "domain": false, "grid": false, "title": null}}}}
]
},
{
"width": 1571, "height": 85,
"title": {"text": "RSI(14) 40.6475", "anchor": "start", "frame": "group", "orient": "top", "baseline": "top", "offset": -16, "dx": 4, "font": "DejaVu Sans", "fontSize": 11, "fontWeight": "normal", "color": "black"},
"resolve": {"scale": {"y": "independent"}, "axis": {"y": "independent"}},
"layer": [
{"data": {"values": [{"v": 70}]}, "mark": {"type": "rule", "color": "#C0C0C0", "strokeDash": [3, 3], "strokeWidth": 1},
 "encoding": {"y": {"field": "v", "type": "quantitative", "scale": {"domain": [0, 100.9], "nice": false, "zero": false},
   "axis": {"orient": "right", "values": [70, 30], "ticks": false, "labelPadding": 5, "labelAlign": "left", "labelBaseline": "middle", "labelOffset": 0, "labelOverlap": false, "labelBound": false, "labelFlush": false, "domain": false, "grid": false, "title": null}}}},
{"data": {"values": [{"v": 30}]}, "mark": {"type": "rule", "color": "#C0C0C0", "strokeDash": [3, 3], "strokeWidth": 1},
 "encoding": {"y": {"field": "v", "type": "quantitative", "scale": {"domain": [0, 100.9], "nice": false, "zero": false},
   "axis": {"orient": "right", "values": [0], "ticks": false, "labelPadding": 5, "labelAlign": "left", "labelBaseline": "middle", "labelOffset": -8, "labelOverlap": false, "labelBound": false, "labelFlush": false, "domain": false, "grid": false, "title": null}}}},
{"data": {"name": "bars"}, "mark": {"type": "line", "color": "#1E90FF", "strokeWidth": 1},
 "encoding": {"x": {"field": "i", "type": "quantitative", "scale": {"domain": [-0.125, 392.625], "nice": false, "zero": false},
   "axis": {"orient": "bottom", "values": [0, 20, 40, 60, 80, 100, 120, 140, 160, 180, 200, 220, 240, 260, 280, 300],
     "labelExpr": "['22 Feb 2016','23 Feb 02:00','23 Feb 22:00','24 Feb 19:00','25 Feb 16:00','26 Feb 13:00','29 Feb 10:00','1 Mar 07:00','2 Mar 04:00','3 Mar 01:00','3 Mar 21:00','4 Mar 18:00','7 Mar 15:00','8 Mar 12:00','9 Mar 09:00','10 Mar 06:00'][round(datum.value / 20)]",
     "ticks": true, "tickSize": 4, "tickColor": "black", "tickWidth": 1, "translate": 0, "labelAlign": "left", "labelBaseline": "top", "labelPadding": 1, "labelFlush": false, "labelOverlap": false, "labelBound": false, "domain": false, "grid": false, "title": null}},
   "y": {"field": "r", "type": "quantitative", "scale": {"domain": [0, 100.9], "nice": false, "zero": false},
   "axis": {"orient": "right", "values": [100], "ticks": false, "labelPadding": 5, "labelAlign": "left", "labelBaseline": "middle", "labelOffset": 8, "labelOverlap": false, "labelBound": false, "labelFlush": false, "domain": false, "grid": false, "title": null}}}}
]
}
]
}
